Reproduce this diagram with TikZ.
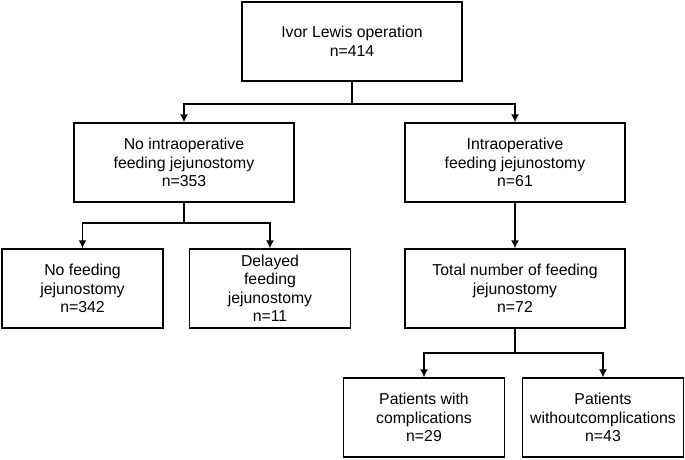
\documentclass[tikz,border=0pt]{standalone}
\usepackage{fontspec}
\setmainfont{Liberation Sans}
\usetikzlibrary{positioning,arrows.meta}

\begin{document}
\begin{tikzpicture}[x=1pt,y=-1pt]
 \tikzset{arrow/.style={-{Latex[length=8pt,width=8pt]}},
   box/.style={draw,line width=1.4pt,align=center,minimum height=79pt,inner sep=2pt,
     font=\fontsize{15.8}{18.5}\selectfont},
   wide/.style={box,minimum width=220pt},
   narrow/.style={box,minimum width=161pt}}
 \useasboundingbox (0,0) rectangle (685,459);
 \node[wide] (ivor) at (352,41.5) {Ivor Lewis operation\\n=414};
 \node[wide] (nointra) at (184,162.5) {No intraoperative\\feeding jejunostomy\\n=353};
 \node[wide] (intra) at (515,162.5) {Intraoperative\\feeding jejunostomy\\n=61};
 \node[narrow] (nofeed) at (82.5,288.5) {No feeding\\jejunostomy\\n=342};
 \node[narrow] (delayed) at (270,288.5) {Delayed\\feeding\\jejunostomy\\n=11};
 \node[wide] (total) at (515,288.5) {Total number of feeding\\jejunostomy\\n=72};
 \node[narrow] (compl) at (424,417.5) {Patients with\\complications\\n=29};
 \node[narrow] (nocompl) at (603,417.5) {Patients\\withoutcomplications\\n=43};

 \coordinate (j1) at (352,104);
 \coordinate (j2) at (184,223);
 \coordinate (j3) at (515,353);

 \begin{scope}[line width=1.4pt]
 \draw (ivor) -- (j1);
 \draw[arrow] (j1) -| (nointra);
 \draw[arrow] (j1) -| (intra);
 \draw (nointra) -- (j2);
 \draw[arrow] (j2) -| (nofeed);
 \draw[arrow] (j2) -| (delayed);
 \draw[arrow] (intra) -- (total);
 \draw (total) -- (j3);
 \draw[arrow] (j3) -| (compl);
 \draw[arrow] (j3) -| (nocompl);
 \end{scope}
\end{tikzpicture}
\end{document}
